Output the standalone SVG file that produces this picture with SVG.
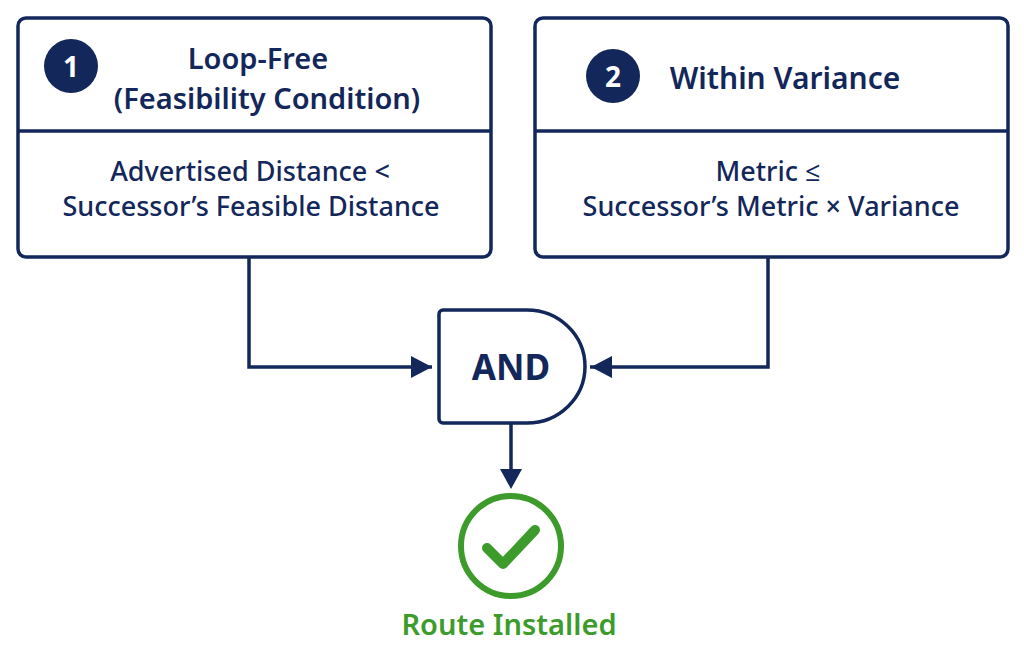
<svg xmlns="http://www.w3.org/2000/svg" width="1024" height="653" viewBox="0 0 1024 653">
<defs>
<style>
.box{fill:#fff;stroke:#13275a;stroke-width:3.5}
.t{font-family:"Noto Sans","Open Sans",sans-serif;fill:#13275a;text-anchor:middle}
.h{font-size:29px;font-weight:600}
.b{font-size:27px;font-weight:500}
.c{fill:none;stroke:#13275a;stroke-width:3.5}
</style>
</defs>
<rect width="1024" height="653" fill="#fff"/>
<g id="node1">
<rect class="box" x="18" y="18" width="473" height="239" rx="8"/>
<line class="c" x1="18" y1="131" x2="491" y2="131"/>
<circle cx="71" cy="66" r="27" fill="#13275a"/>
<text class="t" x="71" y="77" style="font-size:28px;font-weight:700;fill:#fff">1</text>
<text class="t h" x="258" y="69">Loop-Free</text>
<text class="t h" x="267" y="109">(Feasibility Condition)</text>
<text class="t b" x="250" y="181">Advertised Distance &lt;</text>
<text class="t b" x="251" y="216">Successor’s Feasible Distance</text>
</g>
<g id="node2">
<rect class="box" x="535" y="18" width="473" height="239" rx="8"/>
<line class="c" x1="535" y1="131" x2="1008" y2="131"/>
<circle cx="613" cy="76" r="27" fill="#13275a"/>
<text class="t" x="613" y="87" style="font-size:28px;font-weight:700;fill:#fff">2</text>
<text class="t" x="785" y="89" style="font-size:30px;font-weight:600">Within Variance</text>
<text class="t b" x="768" y="181">Metric ≤</text>
<text class="t b" x="771" y="216">Successor’s Metric × Variance</text>
</g>
<g id="and">
<path class="box" d="M443,310 H527 A58,56.5 0 0 1 527,423 H443 A4,4 0 0 1 439,419 V314 A4,4 0 0 1 443,310 Z"/>
<text class="t" x="511" y="380" style="font-size:35px;font-weight:700">AND</text>
</g>
<g id="connectors">
<path class="c" d="M249,257 V367 H432"/>
<path class="c" d="M768,257 V367 H590"/>
<path class="c" d="M511,423 V470"/>
<path d="M411,356 L432,367 L411,378 Z" fill="#13275a"/>
<path d="M612,356 L591,367 L612,378 Z" fill="#13275a"/>
<path d="M500,469 L511,489 L522,469 Z" fill="#13275a"/>
</g>
<g id="result">
<circle cx="511" cy="546" r="50" fill="none" stroke="#3d9b2c" stroke-width="6"/>
<path d="M487,548 L503,564 L535,530" fill="none" stroke="#3d9b2c" stroke-width="10" stroke-linecap="round" stroke-linejoin="round"/>
<text class="t" x="509" y="635" style="font-size:29px;font-weight:600;fill:#3d9b2c">Route Installed</text>
</g>
</svg>
